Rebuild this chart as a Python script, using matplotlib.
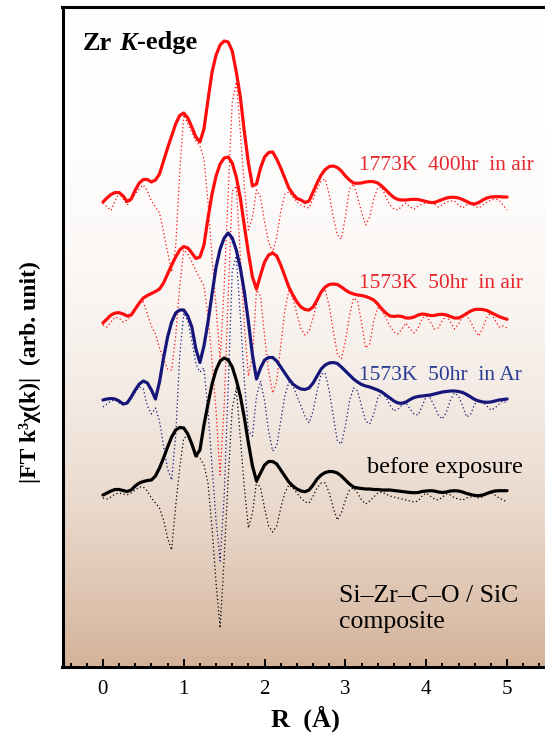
import numpy as np
import matplotlib
matplotlib.use("Agg")
import matplotlib.pyplot as plt
from matplotlib.ticker import MultipleLocator

# R grid (0 to 5 A in 0.05 steps)
r = np.linspace(0, 5, 101)

# |FT| magnitude (solid) and imaginary part (dotted), each relative to its own baseline
black_mag = [0.3, 0.5, 0.7, 0.85, 0.85, 0.75, 0.65, 0.8, 1.2, 1.5,
             1.65, 1.75, 1.8, 2.2, 3.0, 4.0, 5.1, 6.1, 6.8, 7.05,
             7.0, 6.4, 5.4, 4.2, 4.8, 7.3, 9.4, 11.4, 12.8, 13.7,
             14.0, 13.8, 13.1, 11.8, 10.2, 8.0, 5.5, 3.2, 1.7, 2.5,
             3.3, 3.65, 3.65, 3.4, 2.8, 2.2, 1.6, 1.2, 0.9, 0.7,
             0.63, 0.8, 1.3, 1.9, 2.3, 2.55, 2.65, 2.63, 2.5, 2.2,
             1.8, 1.4, 1.1, 1.0, 0.95, 0.9, 0.9, 0.85, 0.85, 0.8,
             0.8, 0.8, 0.75, 0.7, 0.65, 0.6, 0.55, 0.53, 0.55, 0.65,
             0.7, 0.73, 0.7, 0.6, 0.55, 0.6, 0.7, 0.73, 0.7, 0.6,
             0.45, 0.35, 0.25, 0.23, 0.3, 0.45, 0.6, 0.7, 0.73, 0.73,
             0.73]
black_im = [0.0, -0.1, 0.1, 0.4, 0.5, 0.4, 0.3, 0.5, 0.8, 1.1,
            1.1, 0.7, 0.0, -0.5, -1.0, -2.2, -4.0, -5.2, -0.8, 3.0,
            6.0, 6.2, 5.3, 4.2, 4.0, 3.3, 1.5, -3.0, -8.5, -13.0,
            -6.0, 2.0, 9.0, 11.0, 6.0, 1.0, -3.0, -1.5, 1.6, 1.0,
            -1.0, -2.8, -3.4, -2.8, -1.0, 0.5, 1.3, 1.0, 0.5, 0.0,
            -0.4, -0.5, 0.2, 1.0, 1.5, 1.5, 0.5, -1.0, -2.2, -1.5,
            -0.2, 0.8, 1.0, 0.5, -0.2, -0.6, -0.3, 0.1, 0.5, 0.6,
            0.4, 0.2, 0.1, 0.0, -0.1, -0.2, -0.3, -0.4, -0.3, 0.2,
            0.5, 0.2, -0.1, -0.2, 0.1, 0.4, 0.3, 0.0, -0.1, -0.2,
            0.0, 0.1, 0.15, 0.0, 0.1, 0.4, 0.5, 0.3, 0.0, -0.2,
            -0.4]

ar_mag = [0.6, 0.7, 0.75, 0.7, 0.5, 0.2, 0.3, 0.9, 1.6, 2.2,
          2.5, 2.3, 1.6, 0.7, 2.4, 4.8, 6.9, 8.4, 9.3, 9.6,
          9.6, 9.0, 7.9, 5.7, 4.35, 6.0, 8.4, 11.2, 13.9, 15.7,
          16.8, 17.3, 16.8, 15.6, 13.8, 11.4, 8.4, 5.1, 2.7, 3.8,
          4.6, 4.85, 4.85, 4.5, 3.9, 3.3, 2.7, 2.2, 1.9, 1.7,
          1.65, 1.8, 2.3, 3.0, 3.7, 4.1, 4.3, 4.35, 4.25, 3.9,
          3.5, 3.1, 2.7, 2.4, 2.15, 2.0, 1.9, 1.75, 1.6, 1.4,
          1.1, 0.8, 0.5, 0.3, 0.27, 0.4, 0.65, 0.85, 0.95, 1.0,
          1.05, 1.1, 1.2, 1.3, 1.4, 1.45, 1.5, 1.5, 1.45, 1.35,
          1.15, 0.9, 0.65, 0.5, 0.4, 0.37, 0.4, 0.5, 0.6, 0.65,
          0.7]
ar_im = [-0.1, 0.2, 0.5, 0.6, 0.3, 0.1, 0.3, 0.8, 1.4, 1.9,
         1.7, 0.0, -0.8, -0.2, -1.5, -4.0, -6.3, -7.4, -3.0, 5.0,
         9.3, 8.5, 6.5, 4.2, 3.4, 3.8, -0.5, -6.0, -11.5, -15.5,
         -9.0, 2.0, 13.5, 15.0, 9.0, 2.5, -2.5, -3.0, 1.0, 2.5,
         0.5, -2.5, -4.5, -4.0, -1.5, 1.0, 2.4, 2.0, 1.0, 0.0,
         -1.0, -1.7, -0.5, 1.5, 3.2, 3.3, 1.5, -1.0, -3.5, -3.8,
         -2.0, 0.5, 1.8, 1.5, 0.0, -1.5, -1.8, -0.8, 0.8, 1.3,
         0.9, 0.1, -0.5, -0.3, 0.1, 0.3, -0.3, -0.8, -0.9, 0.0,
         1.0, 0.8, 0.0, -0.9, -1.3, -0.6, 0.6, 1.3, 1.0, 0.0,
         -1.1, -0.8, 0.2, 0.5, 0.4, 0.0, -0.4, -0.2, 0.2, 0.5,
         0.3]

air50_mag = [0.3, 0.7, 1.1, 1.3, 1.33, 1.2, 1.0, 1.1, 1.7, 2.3,
             2.8, 3.05, 3.25, 3.45, 3.7, 4.3, 5.2, 6.1, 6.9, 7.6,
             7.95, 7.8, 7.3, 6.75, 6.9, 8.1, 10.8, 13.2, 15.0, 16.2,
             16.8, 16.9, 16.3, 14.9, 12.8, 10.0, 7.3, 4.9, 3.7, 5.1,
             6.4, 7.1, 7.3, 7.0, 6.1, 5.0, 3.9, 3.1, 2.4, 1.9,
             1.65, 1.6, 1.9, 2.6, 3.4, 3.9, 4.15, 4.2, 4.15, 3.9,
             3.6, 3.35, 3.2, 3.1, 3.05, 2.95, 2.8, 2.6, 2.2, 1.7,
             1.3, 1.0, 0.95, 1.0, 0.95, 0.8, 0.8, 0.9, 1.1, 1.2,
             1.15, 1.05, 1.05, 1.15, 1.17, 1.1, 0.95, 0.8, 0.8, 1.0,
             1.25, 1.5, 1.65, 1.67, 1.65, 1.55, 1.35, 1.15, 0.95, 0.8,
             0.67]
air50_im = [0.1, -0.1, 0.4, 0.9, 0.8, 0.4, 0.6, 1.0, 1.6, 2.3,
            2.4, 1.2, 0.0, -0.8, -2.2, -3.3, -4.3, -4.4, -1.0, 4.0,
            7.6, 7.2, 6.4, 5.5, 4.8, 4.0, 1.0, -3.5, -8.5, -14.9,
            -8.0, 3.0, 13.5, 14.0, 7.0, 0.0, -5.0, -3.0, 3.6, 3.0,
            -1.0, -4.5, -6.7, -5.5, -2.0, 1.5, 3.6, 2.8, 1.2, -0.3,
            -0.9, -0.5, 0.8, 2.4, 3.4, 3.6, 2.0, -0.5, -2.8, -3.3,
            -1.5, 1.0, 2.8, 2.5, 0.3, -2.2, -1.8, 0.5, 1.8, 1.6,
            0.8, 0.0, -0.6, -0.8, -0.3, 0.3, -0.3, -0.7, -0.2, 0.8,
            1.0, 0.4, -0.3, -0.2, 0.6, 1.0, 0.4, -0.3, 0.2, 0.9,
            1.1, 0.4, -0.4, -1.0, -0.2, 0.9, 1.3, 0.6, -0.1, 0.0,
            -0.2]

air400_mag = [0.5, 0.9, 1.25, 1.45, 1.45, 1.1, 0.55, 0.8, 1.7, 2.4,
              2.75, 2.75, 2.5, 2.7, 3.3, 4.6, 5.9, 7.1, 8.3, 9.15,
              9.4, 8.9, 8.0, 7.0, 6.5, 7.8, 10.7, 13.5, 15.2, 16.2,
              16.6, 16.5, 15.6, 13.5, 11.0, 7.5, 4.4, 2.1, 2.3, 3.9,
              5.0, 5.45, 5.5, 4.8, 3.9, 2.9, 1.9, 1.3, 0.85, 0.7,
              0.45, 0.6, 1.5, 2.4, 3.2, 3.75, 4.05, 4.1, 3.95, 3.6,
              3.1, 2.7, 2.4, 2.37, 2.4, 2.5, 2.55, 2.53, 2.4, 2.1,
              1.7, 1.3, 0.95, 0.75, 0.7, 0.7, 0.75, 0.77, 0.75, 0.65,
              0.55, 0.45, 0.45, 0.6, 0.75, 0.9, 0.97, 0.97, 0.9, 0.75,
              0.55, 0.35, 0.3, 0.45, 0.7, 0.9, 1.0, 1.03, 1.03, 1.0,
              1.0]
air400_im = [0.4, 0.0, -0.35, 0.6, 1.4, 0.8, 0.2, 0.7, 1.3, 1.8,
             2.2, 1.6, 0.6, 0.0, -0.6, -2.5, -4.5, -6.5, -4.0, 3.5,
             9.2, 8.3, 7.4, 6.6, 6.1, 4.8, 0.5, -5.0, -10.0, -15.3,
             -8.0, 1.5, 10.5, 12.5, 7.5, 2.0, -2.3, -1.0, 1.7, 1.0,
             -1.5, -3.5, -4.5, -3.0, -0.5, 1.3, 1.5, 1.0, 0.5, 0.2,
             0.0, -0.1, 0.8, 1.8, 2.6, 2.8, 1.2, -1.0, -2.8, -3.2,
             -1.0, 1.8, 2.3, 1.0, -0.5, -1.8, -1.0, 0.8, 1.9, 2.0,
             1.0, 0.2, -0.2, -0.3, 0.1, 0.4, 0.0, -0.2, 0.1, 0.3,
             0.4, 0.4, 0.3, 0.0, 0.2, 0.5, 0.6, 0.6, 0.2, -0.1,
             0.2, 0.3, 0.1, -0.1, 0.2, 0.5, 0.7, 0.8, 0.7, 0.2,
             -0.3]

# vertical offsets of the stacked spectra
offsets = {"before": 16.9, "ar": 26.1, "air50": 34.1, "air400": 46.0}

RED = "#ff0d0d"
NAVY = "#16167a"
serif = "Liberation Serif"

fig = plt.figure(figsize=(5.45, 7.40), dpi=100)
ax = fig.add_axes([62.5 / 545, 73 / 740, 485 / 545, 660 / 740])

# background gradient: white at top to tan at the bottom
t = np.linspace(0, 1, 300) ** 2.5
top = np.array([1.0, 1.0, 1.0])
bot = np.array([212, 178, 152]) / 255
grad = top[None, :] * (1 - t[:, None]) + bot[None, :] * t[:, None]
ax.imshow(grad[:, None, :], extent=[0, 1, 0, 1], transform=ax.transAxes,
          aspect="auto", zorder=0, interpolation="bilinear")

series = [
    (air400_mag, air400_im, offsets["air400"], RED),
    (air50_mag, air50_im, offsets["air50"], RED),
    (ar_mag, ar_im, offsets["ar"], NAVY),
    (black_mag, black_im, offsets["before"], "black"),
]
for mag, im, off, col in series:
    ax.plot(r, np.array(im) + off, color=col, lw=0.9, ls=(0, (1, 2)), zorder=2)
for mag, im, off, col in series:
    ax.plot(r, np.array(mag) + off, color=col, lw=2.3, zorder=3,
            solid_capstyle="round", solid_joinstyle="round")

ax.set_xlim(-0.5, 5.5)
ax.set_ylim(0, 66)
ax.set_yticks([])
ax.xaxis.set_major_locator(MultipleLocator(1))
ax.xaxis.set_minor_locator(MultipleLocator(0.2))
ax.tick_params(axis="x", which="major", direction="in", length=6, width=1.4,
               pad=9, labelsize=15, top=False)
ax.tick_params(axis="x", which="minor", direction="in", length=3, width=1.4,
               top=False)
for lab in ax.get_xticklabels():
    lab.set_fontfamily(serif)
for s in ax.spines.values():
    s.set_linewidth(2.2)

ax.set_xlabel("R  (Å)", fontsize=19, fontweight="bold", family=serif, labelpad=5)
fig.text(30 / 545, 1 - 372 / 740, "|FT k³χ(k)|  (arb. unit)", rotation=90,
         fontsize=17, fontweight="bold", family=serif, ha="center", va="center")

# edge label, K in italics
t1 = ax.text(-0.25, 62.4, "Zr", fontsize=19, fontweight="bold", family=serif,
             va="center", ha="left")
t2 = ax.annotate("K", xy=(1, 0), xycoords=t1, xytext=(5, 0), textcoords="offset points",
                 fontsize=19, fontweight="bold", fontstyle="italic", family=serif,
                 va="bottom", ha="left")
ax.annotate("-edge", xy=(1, 0), xycoords=t2, xytext=(0, 0), textcoords="offset points",
            fontsize=19, fontweight="bold", family=serif, va="bottom", ha="left")

lab_kw = dict(fontsize=15.5, family=serif, ha="left", va="center")
ax.text(3.17, 50.2, "1773K  400hr  in air", color="#e8262e", **lab_kw)
ax.text(3.17, 38.4, "1573K  50hr  in air", color="#e8262e", **lab_kw)
ax.text(3.17, 29.2, "1573K  50hr  in Ar", color="#283c96", **lab_kw)
ax.text(3.27, 19.9, "before exposure", color="black", fontsize=17.5, family=serif,
        ha="left", va="center")
ax.text(2.92, 7.1, "Si–Zr–C–O / SiC", fontsize=18.5, family=serif, ha="left", va="center")
ax.text(2.92, 4.5, "composite", fontsize=18.5, family=serif, ha="left", va="center")

fig.savefig("out.png", dpi=100)
